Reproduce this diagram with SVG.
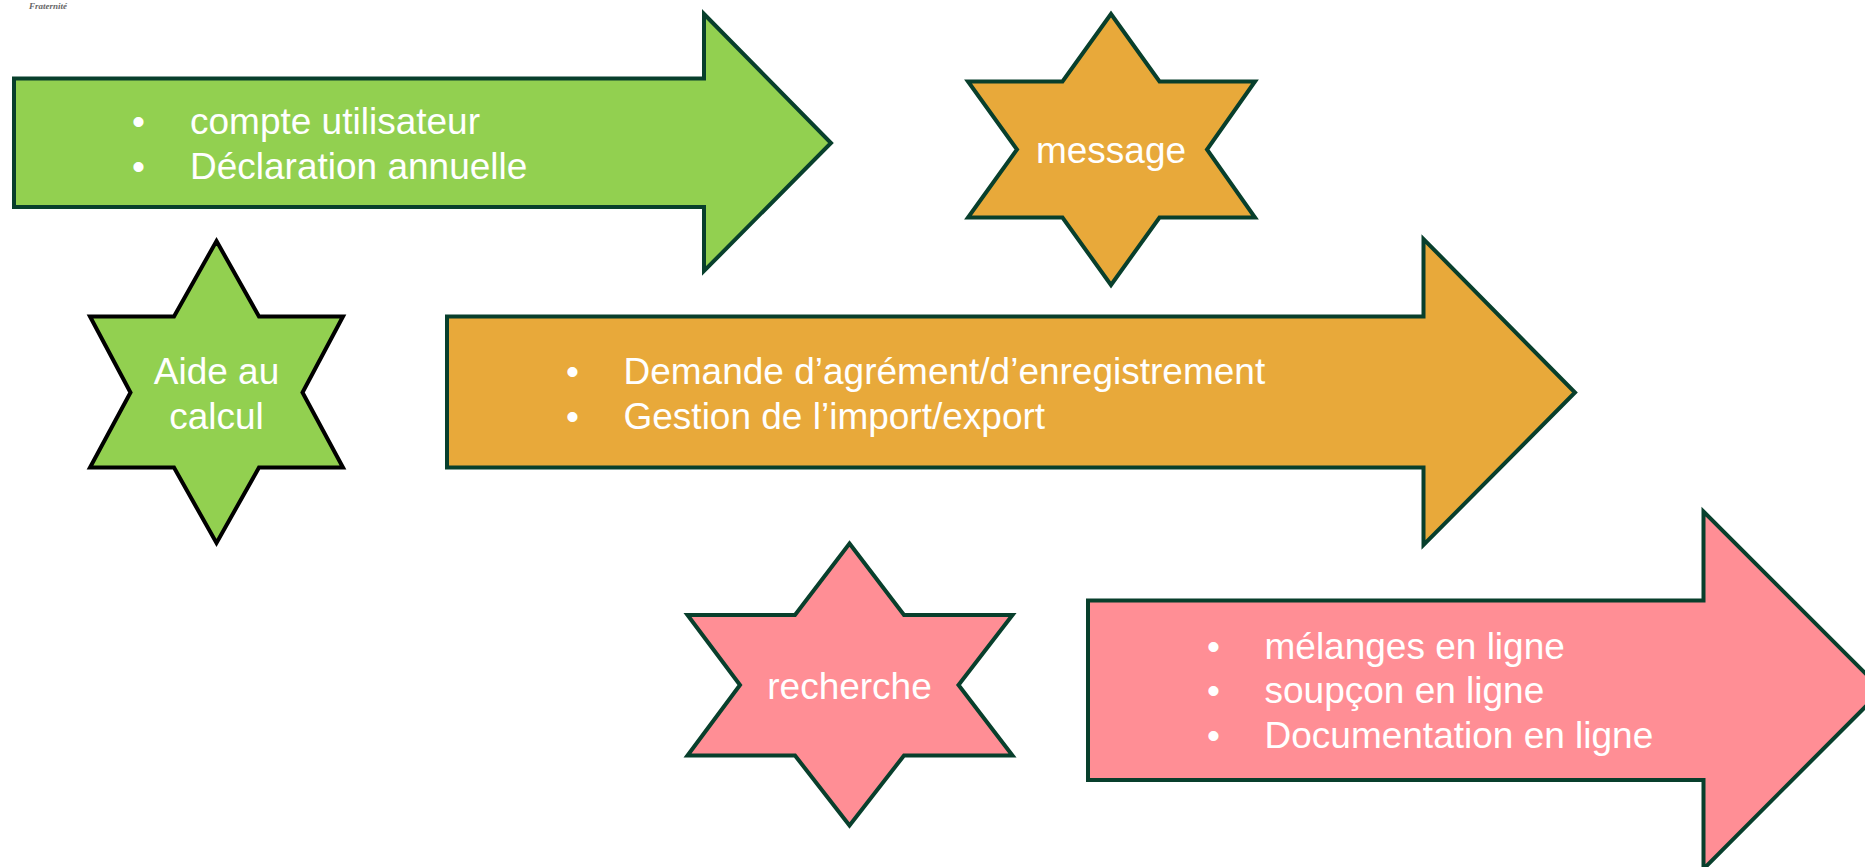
<svg xmlns="http://www.w3.org/2000/svg" width="1865" height="867" viewBox="0 0 1865 867">
<style>
.shape{stroke:#083F2C;stroke-width:4;stroke-linejoin:miter}
.green{fill:#92D050}
.orange{fill:#E8A93A}
.pink{fill:#FF8E95}
.black{stroke:#000}
.t{font-family:"Liberation Sans",Arial,sans-serif;font-size:37px;fill:#fff}
.c{text-anchor:middle}
.mark{font-family:"Liberation Serif","Times New Roman",serif;font-size:9px;font-style:italic;font-weight:bold;fill:#666}
</style>
<rect width="1865" height="867" fill="#fff"/>
<text class="mark" x="29" y="9">Fraternité</text>
<g id="arrow-green">
<polygon class="shape green" points="14,78.5 704,78.5 704,14 831,143 704,271 704,207 14,207"/>
<text class="t" x="132" y="134">•</text><text class="t" x="190" y="134">compte utilisateur</text>
<text class="t" x="132" y="178.5">•</text><text class="t" x="190" y="178.5">Déclaration annuelle</text>
</g>
<g id="star-message">
<polygon class="shape orange" points="1111,14 1159.5,81.5 1255,81.5 1207,149.5 1255,217.5 1159.5,217.5 1111,285 1062.5,217.5 968,217.5 1017,149.5 968,81.5 1062.5,81.5"/>
<text class="t c" x="1111" y="163">message</text>
</g>
<g id="star-aide">
<polygon class="shape green black" points="216.5,241 259,316.5 343,316.5 302.5,392.5 343,467.5 259,467.5 216.5,543 174,467.5 90,467.5 130.5,392.5 90,316.5 174,316.5"/>
<text class="t c" x="216.5" y="383.5">Aide au</text>
<text class="t c" x="216.5" y="428.5">calcul</text>
</g>
<g id="arrow-orange">
<polygon class="shape orange" points="447,316.5 1423.5,316.5 1423.5,239 1575,392.5 1423.5,545 1423.5,467.5 447,467.5"/>
<text class="t" x="566" y="383.5">•</text><text class="t" x="623.5" y="383.5">Demande d’agrément/d’enregistrement</text>
<text class="t" x="566" y="428.5">•</text><text class="t" x="623.5" y="428.5">Gestion de l’import/export</text>
</g>
<g id="star-recherche">
<polygon class="shape pink" points="849.5,543.5 904,615 1012.5,615 958.5,685 1012.5,755.5 904,755.5 849.5,825.5 795,755.5 687.5,755.5 740,685 687.5,615 795,615"/>
<text class="t c" x="849.5" y="698.5">recherche</text>
</g>
<g id="arrow-pink">
<polygon class="shape pink" points="1088,600.5 1703.5,600.5 1703.5,511.5 1882,690 1703.5,869 1703.5,780 1088,780"/>
<text class="t" x="1207" y="658.5">•</text><text class="t" x="1264.5" y="658.5">mélanges en ligne</text>
<text class="t" x="1207" y="703">•</text><text class="t" x="1264.5" y="703">soupçon en ligne</text>
<text class="t" x="1207" y="747.5">•</text><text class="t" x="1264.5" y="747.5">Documentation en ligne</text>
</g>
<g id="connectors"/>
</svg>
